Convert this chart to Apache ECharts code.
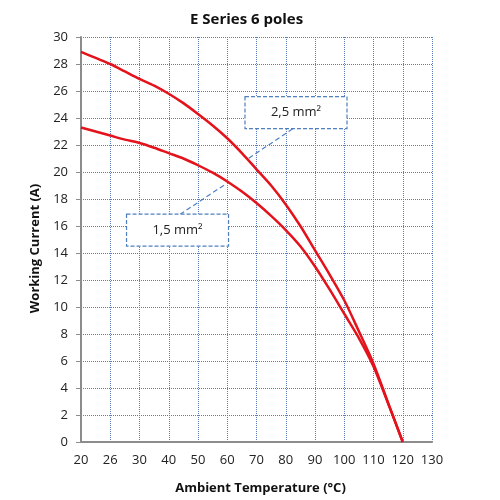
<!DOCTYPE html>
<html>
<head>
<meta charset="utf-8">
<script src="https://cdn.jsdelivr.net/npm/echarts@6/dist/echarts.min.js"></script>
<style>
  html, body { margin: 0; padding: 0; background: #fff; }
  #chart { width: 500px; height: 500px; }
</style>
</head>
<body>
<div id="chart"></div>
<script>
  // x tick labels (evenly spaced on the original, incl. the odd "26")
  const xTicks = [20, 26, 30, 40, 50, 60, 70, 80, 90, 100, 110, 120, 130];

  // sample temperatures (°C), shared by both curves
  const temps = [20, 23, 26, 28, 30, 35, 40, 45, 50, 55, 60, 65, 70, 75, 80, 85, 90, 95, 100, 105, 110, 115, 120];

  // 2,5 mm2 curve (A)
  const cur25 = [28.9, 28.45, 28.0, 27.45, 26.9, 26.4, 25.8, 25.1, 24.3, 23.45, 22.5, 21.4, 20.2, 19.0,
                 17.6, 16.0, 14.2, 12.4, 10.5, 8.2, 5.8, 2.9, 0];

  // 1,5 mm2 curve (A)
  const cur15 = [23.3, 23.0, 22.7, 22.4, 22.15, 21.8, 21.4, 21.0, 20.5, 19.95, 19.3, 18.55, 17.7, 16.75,
                 15.7, 14.5, 13.0, 11.3, 9.5, 7.7, 5.6, 2.85, 0];

  const gridBlue = '#5a7dbb';
  const dashBlue = '#4f7fbf';
  const axisGray = '#8c8c8c';
  const red = '#e3121b';
  const font = 'Open Sans, Liberation Sans, sans-serif';

  // temperature -> position on the evenly spaced axis
  function toPos(t) {
    for (let i = 0; i < xTicks.length - 1; i++) {
      if (t <= xTicks[i + 1]) {
        return i + (t - xTicks[i]) / (xTicks[i + 1] - xTicks[i]);
      }
    }
    return xTicks.length - 1;
  }

  function pairs(ts, vs) {
    return ts.map((t, i) => [toPos(t), vs[i]]);
  }

  let myChart = echarts.init(document.getElementById('chart'));

  let option = {
    animation: false,
    title: {
      text: 'E Series 6 poles',
      left: 185,
      top: 7,
      textStyle: { fontFamily: font, fontSize: 15, fontWeight: 'bold', color: '#111' }
    },
    grid: { left: 81, right: 68, top: 37, bottom: 57 },
    xAxis: {
      type: 'value',
      min: 0,
      max: 12,
      interval: 1,
      name: 'Ambient Temperature (°C)',
      nameLocation: 'middle',
      nameGap: 40,
      nameTextStyle: { fontFamily: font, fontSize: 13, fontWeight: 'bold', color: '#111', padding: [0, 0, 0, 8] },
      axisLine: { show: true, lineStyle: { color: axisGray, width: 2 } },
      axisTick: { show: false },
      axisLabel: {
        margin: 12,
        fontFamily: font,
        fontSize: 13,
        color: '#222',
        formatter: function (v) { return xTicks[v]; }
      },
      splitLine: { show: true, lineStyle: { color: gridBlue, width: 1, type: [1, 1] } }
    },
    yAxis: {
      type: 'value',
      min: 0,
      max: 30,
      interval: 2,
      name: 'Working Current (A)',
      nameLocation: 'middle',
      nameGap: 36,
      nameTextStyle: { fontFamily: font, fontSize: 13, fontWeight: 'bold', color: '#111', padding: [0, 18, 0, 0] },
      axisLine: { show: true, lineStyle: { color: axisGray, width: 2 } },
      axisTick: { show: true, length: 5, lineStyle: { color: axisGray, width: 1 } },
      axisLabel: { margin: 13, fontFamily: font, fontSize: 13, color: '#222' },
      splitLine: { show: true, lineStyle: { color: gridBlue, width: 1, type: [1, 1] } }
    },
    series: [
      {
        name: '2,5 mm²',
        type: 'line',
        smooth: 0.3,
        symbol: 'none',
        lineStyle: { color: red, width: 2.5 },
        data: pairs(temps, cur25)
      },
      {
        name: '1,5 mm²',
        type: 'line',
        smooth: 0.3,
        symbol: 'none',
        lineStyle: { color: red, width: 2.5 },
        data: pairs(temps, cur15)
      }
    ]
  };
  myChart.setOption(option);

  // callout boxes, anchored in axis coordinates
  function px(p) { return myChart.convertToPixel({ gridIndex: 0 }, p); }

  function callout(text, center, from, to) {
    const c = px(center), a = px(from), b = px(to);
    const w = 102, h = 32;
    return [
      {
        type: 'line',
        z: 10,
        shape: { x1: a[0], y1: a[1], x2: b[0], y2: b[1] },
        style: { stroke: dashBlue, lineWidth: 1.2, lineDash: [5, 3] }
      },
      {
        type: 'rect',
        z: 11,
        shape: { x: c[0] - w / 2, y: c[1] - h / 2, width: w, height: h },
        style: { fill: '#fff', stroke: dashBlue, lineWidth: 1.2, lineDash: [4, 2] }
      },
      {
        type: 'text',
        z: 12,
        x: c[0],
        y: c[1],
        style: {
          text: text,
          fontFamily: font,
          fontSize: 13,
          fill: '#222',
          align: 'center',
          verticalAlign: 'middle'
        }
      }
    ];
  }

  myChart.setOption({
    graphic: [].concat(
      callout('2,5 mm²', [7.35, 24.4], [7.24, 23.2], [5.72, 21.0]),
      callout('1,5 mm²', [3.3, 15.7], [3.38, 16.85], [4.92, 19.07])
    )
  });
</script>
</body>
</html>
